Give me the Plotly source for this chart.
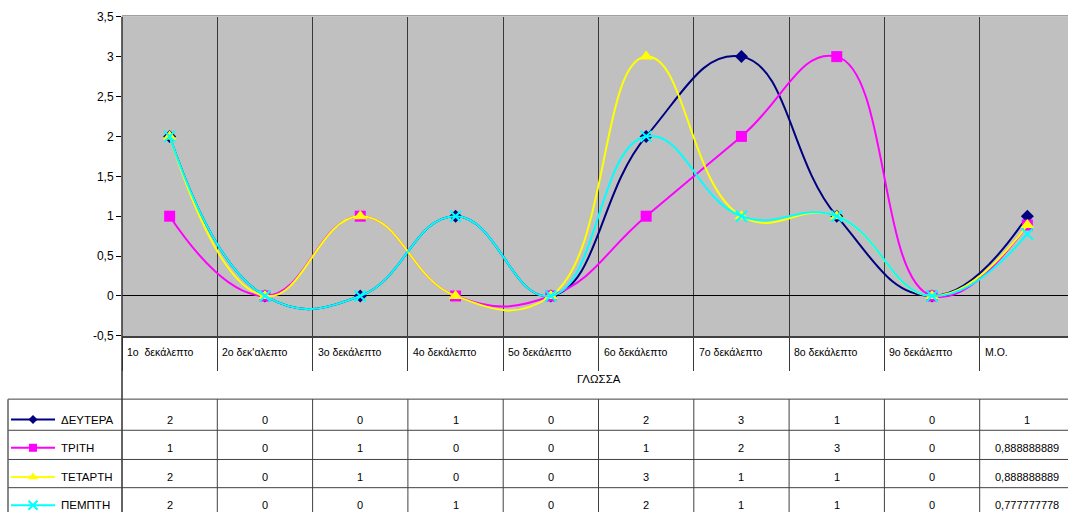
import plotly.graph_objects as go

# ---------------- data ----------------
categories = ["1o  δεκάλεπτο", "2o δεκ'αλεπτο", "3o δεκάλεπτο", "4o δεκάλεπτο",
              "5o δεκάλεπτο", "6o δεκάλεπτο", "7o δεκάλεπτο", "8o δεκάλεπτο",
              "9o δεκάλεπτο", "Μ.Ο."]
series_names = ["ΔΕΥΤΕΡΑ", "ΤΡΙΤΗ", "ΤΕΤΑΡΤΗ", "ΠΕΜΠΤΗ"]
deutera = [2, 0, 0, 1, 0, 2, 3, 1, 0, 1]
triti = [1, 0, 1, 0, 0, 1, 2, 3, 0, 0.888888889]
tetarti = [2, 0, 1, 0, 0, 3, 1, 1, 0, 0.888888889]
pempti = [2, 0, 0, 1, 0, 2, 1, 1, 0, 0.777777778]
y_ticks = [-0.5, 0, 0.5, 1, 1.5, 2, 2.5, 3, 3.5]
y_tick_labels = ["-0,5", "0", "0,5", "1", "1,5", "2", "2,5", "3", "3,5"]
axis_title = "ΓΛΩΣΣΑ"

# ---------------- styles ----------------
series_values = [deutera, triti, tetarti, pempti]
colors = ["#000080", "#FF00FF", "#FFFF00", "#00FFFF"]
symbols = ["diamond", "square", "triangle-up", "x-thin"]
sizes = [10, 11, 12, 11]
key_sizes = [7, 8, 9, 9]
FONT = "Liberation Sans, Arial, sans-serif"

W, H = 1068, 519
PL, PT, PB = 122, 10, 338
CAT_W = 95.3
x_end = -0.5 + (W - PL) / CAT_W

def px(x):
    return x / W

def py(y):
    return 1 - y / H

table_top = 403
row_lines = [435, 465, 494]
row_text_y = [424, 453, 483, 512]

def fmt(v):
    s = f"{v:.9f}".rstrip("0").rstrip(".")
    return s.replace(".", ",")

def make_marker(sym, sz, c):
    if sym == "x-thin":
        return dict(symbol=sym, size=sz, color=c, line=dict(width=2, color=c))
    return dict(symbol=sym, size=sz, color=c, line=dict(width=0))

fig = go.Figure()

for name, vals, c, sym, sz in zip(series_names, series_values, colors, symbols, sizes):
    fig.add_trace(go.Scatter(
        x=categories, y=vals, mode="lines+markers", name=name,
        line=dict(color=c, width=2, shape="spline", smoothing=1.3),
        marker=make_marker(sym, sz, c), showlegend=False, cliponaxis=False,
        xaxis="x", yaxis="y"))

# legend keys in table (pixel overlay axes)
for r, (name, c, sym, sz) in enumerate(zip(series_names, colors, symbols, key_sizes)):
    yc = row_text_y[r]
    fig.add_trace(go.Scatter(x=[11, 55], y=[yc, yc], mode="lines",
                             line=dict(color=c, width=2), showlegend=False,
                             xaxis="x2", yaxis="y2", cliponaxis=False, hoverinfo="skip"))
    fig.add_trace(go.Scatter(x=[33], y=[yc], mode="markers", marker=make_marker(sym, sz, c),
                             showlegend=False, xaxis="x2", yaxis="y2",
                             cliponaxis=False, hoverinfo="skip"))

shapes = []
shapes.append(dict(type="rect", xref="x domain", yref="y domain", x0=0, x1=1, y0=0, y1=1,
                   fillcolor="#C0C0C0", line=dict(width=0), layer="below"))
shapes.append(dict(type="line", xref="paper", yref="paper", x0=px(PL), x1=1,
                   y0=py(PT - 1), y1=py(PT - 1), line=dict(color="#A0A0A0", width=1.5)))
shapes.append(dict(type="line", xref="paper", yref="paper", x0=px(PL), x1=px(PL),
                   y0=py(PT), y1=0, line=dict(color="#303030", width=1.5)))
for yy in [table_top] + row_lines:
    shapes.append(dict(type="line", xref="paper", yref="paper", x0=px(8), x1=1,
                       y0=py(yy), y1=py(yy), line=dict(color="#404040", width=1)))
shapes.append(dict(type="line", xref="paper", yref="paper", x0=px(8), x1=px(8),
                   y0=py(table_top), y1=0, line=dict(color="#606060", width=1.5)))
for i in range(len(categories)):
    shapes.append(dict(type="line", xref="x", yref="paper", x0=i + 0.5, x1=i + 0.5,
                       y0=py(table_top), y1=0, line=dict(color="#404040", width=1)))

annotations = []
for i, cat in enumerate(categories):
    annotations.append(dict(x=i - 0.5, xref="x", y=py(355), yref="paper", text=cat,
                            showarrow=False, xanchor="left", yanchor="middle", xshift=3,
                            font=dict(family=FONT, size=10.5, color="#000")))
annotations.append(dict(x=px((PL + PL + 10 * CAT_W) / 2), xref="paper", y=py(382), yref="paper",
                        text=axis_title, showarrow=False, xanchor="center", yanchor="middle",
                        font=dict(family=FONT, size=11.5, color="#000")))
for r, (name, vals) in enumerate(zip(series_names, series_values)):
    annotations.append(dict(x=px(59), xref="paper", y=py(row_text_y[r]), yref="paper",
                            text=name, showarrow=False, xanchor="left", yanchor="middle",
                            font=dict(family=FONT, size=11.5, color="#000")))
    for i, v in enumerate(vals):
        annotations.append(dict(x=i, xref="x", y=py(row_text_y[r]), yref="paper",
                                text=fmt(v), showarrow=False, xanchor="center",
                                yanchor="middle",
                                font=dict(family=FONT, size=11, color="#000")))

fig.update_layout(
    width=W, height=H,
    margin=dict(l=0, r=0, t=0, b=0, pad=0),
    paper_bgcolor="white",
    plot_bgcolor="rgba(0,0,0,0)",
    font=dict(family=FONT, size=12, color="#000"),
    xaxis=dict(domain=[px(PL), 1], type="category", range=[-0.5, x_end],
               tickson="boundaries", showgrid=True, gridcolor="#383838", gridwidth=1,
               ticks="outside", ticklen=33, tickcolor="#383838", tickwidth=1,
               showticklabels=False, showline=True, linecolor="#404040", linewidth=2,
               zeroline=False, fixedrange=True),
    yaxis=dict(domain=[py(PB), py(PT)], range=[-0.5, 3.5], tickvals=y_ticks,
               ticktext=y_tick_labels, ticks="outside", ticklen=5, tickcolor="#000",
               showgrid=False, zeroline=True, zerolinecolor="#000", zerolinewidth=1,
               showline=False, tickfont=dict(family=FONT, size=12, color="#000"),
               fixedrange=True),
    xaxis2=dict(domain=[0, 1], range=[0, W], visible=False, anchor="y2", fixedrange=True),
    yaxis2=dict(domain=[0, 1], range=[H, 0], visible=False, anchor="x2", fixedrange=True),
    shapes=shapes,
    annotations=annotations,
)

fig.write_html("out.html", config={"displayModeBar": False},
               post_script="document.body.style.margin='0';document.body.style.overflow='hidden';")
